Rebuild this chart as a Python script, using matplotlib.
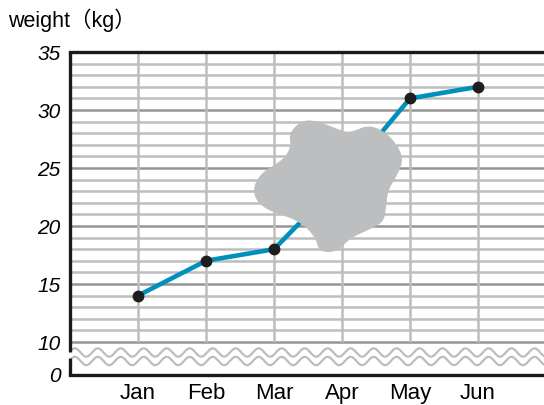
import matplotlib.pyplot as plt
import numpy as np

months = ["Jan", "Feb", "Mar", "Apr", "May", "Jun"]
weight = [14, 17, 18, 24, 31, 32]
y_ticks = [10, 15, 20, 25, 30, 35]

# the axis is broken between 0 and 10; 0 is drawn at this position
zero_pos = 10 - 33 / 11.6

line_color = "#0090bb"
grid_light = "#bdbdbd"
grid_dark = "#959595"
blob_color = "#bdbec0"

fig = plt.figure(figsize=(5.44, 4.05), dpi=100)
ax = fig.add_axes([70 / 544, 30 / 405, 1 - 70 / 544, 323 / 405])
x = np.arange(len(months))
ax.set_xlim(-1, 5.97)
ax.set_ylim(zero_pos, 35)

# grid
for v in range(10, 35):
    c = grid_dark if v % 5 == 0 else grid_light
    ax.axhline(v, color=c, lw=1.8, zorder=1)
ax.vlines(x, 10, 35, color=grid_light, lw=1.8, zorder=1)

# wavy break lines
wx = np.linspace(-0.97, 5.97, 800)
wave = np.sin(2 * np.pi * wx / 0.338)
for yc in [35 - 300.5 / 11.6, 35 - 309 / 11.6]:
    ax.plot(wx, yc + 0.36 * wave, color=grid_light, lw=1.6, zorder=1, clip_on=False)

# data line
ax.plot(x, weight, color=line_color, lw=3.3, zorder=3)
ax.plot(x, weight, "o", color="#1e1e1e", ms=7.5, zorder=4)

# the blob hiding the April point
blob_px = np.array([(289, 133), (302, 120), (318, 121), (337, 129), (350, 133), (370, 124),
                    (391, 136), (404, 157), (398, 174), (388, 190), (386, 207), (384, 221),
                    (373, 228), (350, 238), (337, 252), (319, 252), (316, 238), (300, 221),
                    (269, 211), (256, 201), (253, 187), (262, 172), (283, 160), (291, 147)], float)
pts = np.column_stack([(blob_px[:, 0] - 138) / 68, 35 - (blob_px[:, 1] - 52) / 11.6])
for _ in range(4):
    q = np.roll(pts, -1, axis=0)
    new = np.empty((2 * len(pts), 2))
    new[0::2] = 0.75 * pts + 0.25 * q
    new[1::2] = 0.25 * pts + 0.75 * q
    pts = new
ax.fill(pts[:, 0], pts[:, 1], color=blob_color, lw=0, zorder=5)

# spines
for s in ["left", "right"]:
    ax.spines[s].set_visible(False)
for s in ["top", "bottom"]:
    ax.spines[s].set_linewidth(2.4)
    ax.spines[s].set_color("#1a1a1a")
ax.plot([-1, -1], [35, 35 - 300 / 11.6], color="#1a1a1a", lw=2.4, clip_on=False,
        solid_capstyle="butt", zorder=6)
ax.plot([-1, -1], [35 - 306 / 11.6, zero_pos], color="#1a1a1a", lw=2.4, clip_on=False,
        solid_capstyle="butt", zorder=6)

ax.set_xticks(x)
ax.set_xticklabels(months, fontsize=16, family="Liberation Sans")
ax.set_yticks([zero_pos] + y_ticks)
ax.set_yticklabels(["0"] + [str(v) for v in y_ticks], fontsize=15,
                   family="Liberation Sans", style="italic")
ax.tick_params(length=0)
ax.tick_params(axis="y", pad=7)
ax.tick_params(axis="x", pad=6)

fig.text(8 / 544, 1 - 20 / 405, "weight（kg）", fontsize=15.5, va="center", ha="left",
         family=["Liberation Sans", "Noto Sans CJK JP"])

fig.savefig("out.png", dpi=100)
